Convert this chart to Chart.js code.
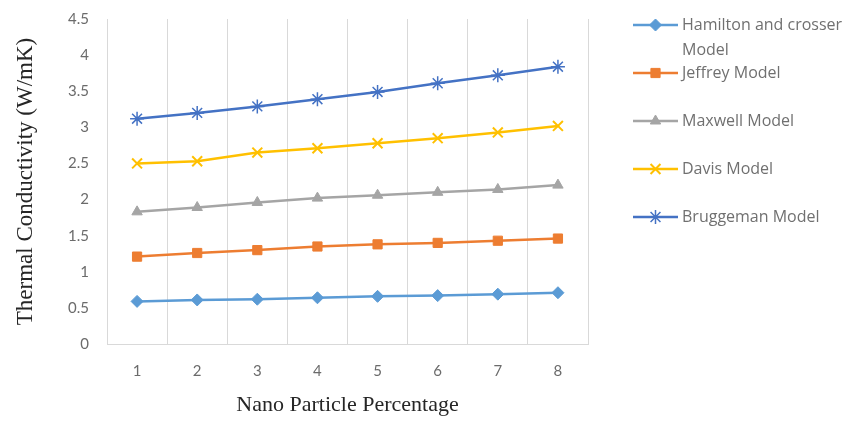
<!DOCTYPE html>
<html>
<head>
<meta charset="utf-8">
<script src="https://cdn.jsdelivr.net/npm/chart.js@4.4.1/dist/chart.umd.min.js"></script>
<style>
  html, body { margin: 0; padding: 0; background: #ffffff; }
  #wrap { width: 847px; height: 423px; position: relative; }
</style>
</head>
<body>
<div id="wrap"><canvas id="chart" width="847" height="423"></canvas></div>
<script>
// Nanoparticle loading (%) on the x axis
const categories = ['1', '2', '3', '4', '5', '6', '7', '8'];

// Thermal conductivity (W/mK) predicted by each model
const hamiltonCrosser = [0.59, 0.61, 0.62, 0.64, 0.66, 0.67, 0.69, 0.71];
const jeffrey         = [1.21, 1.26, 1.30, 1.35, 1.38, 1.40, 1.43, 1.46];
const maxwell         = [1.83, 1.89, 1.96, 2.02, 2.06, 2.10, 2.14, 2.20];
const davis           = [2.50, 2.53, 2.65, 2.71, 2.78, 2.85, 2.93, 3.02];
const bruggeman       = [3.12, 3.20, 3.29, 3.39, 3.49, 3.61, 3.72, 3.84];

const seriesNames = ['Hamilton and crosser Model', 'Jeffrey Model', 'Maxwell Model', 'Davis Model', 'Bruggeman Model'];

// Value axis ticks
const yTickValues = [0, 0.5, 1, 1.5, 2, 2.5, 3, 3.5, 4, 4.5];

const TICK_FONT = { family: 'Lato, "Open Sans", sans-serif', size: 15 };
const SERIF = '"Liberation Serif", "DejaVu Serif", serif';

function series(label, data, color, style, radius, borderWidth) {
  return {
    label: label,
    data: data,
    borderColor: color,
    backgroundColor: color,
    borderWidth: 2.5,
    pointStyle: style,
    pointRadius: radius,
    pointHoverRadius: radius,
    pointBackgroundColor: color,
    pointBorderColor: color,
    pointBorderWidth: borderWidth,
    tension: 0
  };
}

// Right-hand legend: short line with the series marker, wrapped label text
const sideLegend = {
  id: 'sideLegend',
  afterDraw(chart) {
    const ctx = chart.ctx;
    const lineX0 = 633, lineX1 = 678, textX = 682;
    const top = 25, step = 48, lineH = 25, maxW = 166;
    ctx.save();
    ctx.font = '16px "Open Sans", Lato, sans-serif';
    ctx.textBaseline = 'middle';
    ctx.textAlign = 'left';
    chart.data.datasets.forEach((ds, i) => {
      const y = top + i * step;
      ctx.strokeStyle = ds.borderColor;
      ctx.lineWidth = ds.borderWidth;
      ctx.beginPath();
      ctx.moveTo(lineX0, y);
      ctx.lineTo(lineX1, y);
      ctx.stroke();
      ctx.fillStyle = ds.pointBackgroundColor;
      ctx.strokeStyle = ds.pointBorderColor;
      ctx.lineWidth = ds.pointBorderWidth;
      Chart.helpers.drawPoint(ctx, { pointStyle: ds.pointStyle, radius: ds.pointRadius, rotation: 0, borderWidth: ds.pointBorderWidth }, (lineX0 + lineX1) / 2, y);
      // word wrap
      const words = ds.label.split(' ');
      const lines = [];
      let cur = '';
      words.forEach(w => {
        const test = cur ? cur + ' ' + w : w;
        if (cur && ctx.measureText(test).width > maxW) { lines.push(cur); cur = w; }
        else { cur = test; }
      });
      if (cur) lines.push(cur);
      ctx.fillStyle = '#707070';
      lines.forEach((t, k) => ctx.fillText(t, textX, y + k * lineH));
    });
    ctx.restore();
  }
};

new Chart(document.getElementById('chart'), {
  type: 'line',
  data: {
    labels: categories,
    datasets: [
      series(seriesNames[0], hamiltonCrosser, '#5B9BD5', 'rectRot', 6, 1),
      series(seriesNames[1], jeffrey, '#ED7D31', 'rect', 6.5, 1),
      series(seriesNames[2], maxwell, '#A5A5A5', 'triangle', 6, 1),
      series(seriesNames[3], davis, '#FFC000', 'crossRot', 7, 2),
      series(seriesNames[4], bruggeman, '#4472C4', 'star', 7, 1.5)
    ]
  },
  options: {
    responsive: false,
    animation: false,
    events: [],
    layout: { padding: { left: 0, top: 19, right: 259, bottom: 0 } },
    plugins: { legend: { display: false }, tooltip: { enabled: false } },
    scales: {
      x: {
        type: 'category',
        offset: true,
        grid: { display: true, offset: true, color: '#D9D9D9', lineWidth: 1, drawTicks: false },
        border: { display: true, color: '#D9D9D9' },
        ticks: { color: '#6b6b6b', font: TICK_FONT, padding: 18, maxRotation: 0 },
        title: { display: true, text: 'Nano Particle Percentage', color: '#262626', font: { family: SERIF, size: 22 }, padding: { top: 0, bottom: 5 } },
        afterFit(scale) { scale.height = 79; }
      },
      y: {
        min: 0,
        max: 4.5,
        grid: { display: false, drawTicks: true, tickLength: 16, tickColor: 'rgba(0,0,0,0)' },
        border: { display: true, color: '#D9D9D9' },
        afterBuildTicks(axis) { axis.ticks = yTickValues.map(v => ({ value: v })); },
        ticks: { color: '#6b6b6b', font: TICK_FONT, padding: 2, callback: v => String(v) },
        title: { display: true, text: 'Thermal Conductivity (W/mK)', color: '#262626', font: { family: SERIF, size: 23 }, padding: { top: 12, bottom: 0 } },
        afterFit(scale) { scale.width = 107; }
      }
    }
  },
  plugins: [sideLegend]
});
</script>
</body>
</html>
